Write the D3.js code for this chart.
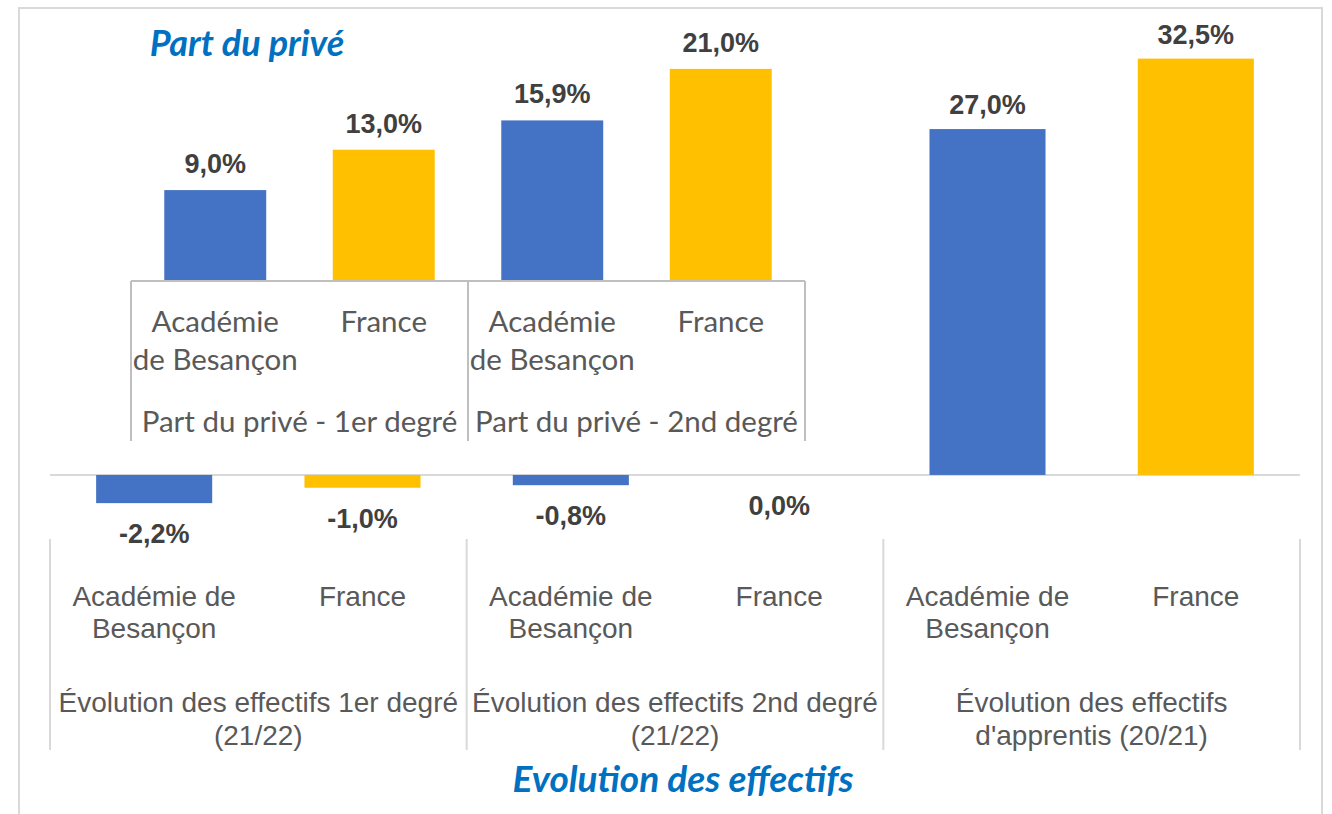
<!DOCTYPE html>
<html>
<head>
<meta charset="utf-8">
<script src="https://cdn.jsdelivr.net/npm/d3@7"></script>
<style>
  body { margin: 0; background: #fff; }
  .lbl { font-family: "Liberation Sans", Arial, sans-serif; fill: #595959; }
  .val { font-family: "Liberation Sans", Arial, sans-serif; font-weight: bold; fill: #404040; }
  .cal { font-family: Lato, "Open Sans", sans-serif; fill: #595959; }
  .ttl { font-family: Lato, "Open Sans", sans-serif; font-weight: bold; font-style: italic; fill: #0070C0; }
</style>
</head>
<body>
<div id="chart"></div>
<script>
      // data -------------------------------------------
      var subCats = ["Académie", "France"];
      var evoGroups = ["Évolution des effectifs 1er degré\n(21/22)", "Évolution des effectifs 2nd degré\n(21/22)", "Évolution des effectifs\nd'apprentis (20/21)"];
      var evoSubLabels = ["Académie de\nBesançon", "France"];
      var evoAcademie = [-2.2, -0.8, 27.0];
      var evoFrance = [-1.0, 0.0, 32.5];

      var partGroups = ["Part du privé - 1er degré", "Part du privé - 2nd degré"];
      var partSubLabels = ["Académie\nde Besançon", "France"];
      var partAcademie = [9.0, 15.9];
      var partFrance = [13.0, 21.0];

      var colors = { "Académie": "#4472C4", "France": "#FFC000" };
      var width = 1332;
      var height = 814;

      var fmt = function(v) { return v.toFixed(1).replace('.', ',') + '%'; };

      var chart = d3.select('#chart').append('svg')
                    .attr('width', width)
                    .attr('height', height);

      // outer frame
      chart.append('rect')
           .attr('x', 19).attr('y', 8)
           .attr('width', 1303).attr('height', 840)
           .attr('fill', '#fff')
           .attr('stroke', '#d9d9d9').attr('stroke-width', 2);

      function rows(groups, a, f) {
        return groups.map(function(g, i) {
          return { group: g, values: [{ key: "Académie", v: a[i] }, { key: "France", v: f[i] }] };
        });
      }

      function multiLine(sel, text, x, y, lh) {
        var t = sel.append('text').attr('x', x).attr('y', y).attr('text-anchor', 'middle');
        text.split('\n').forEach(function(line, i) {
          t.append('tspan').attr('x', x).attr('y', y + i * lh).text(line);
        });
        return t;
      }

      // -----------------------------------
      // main chart : Evolution des effectifs
      var x0 = d3.scaleBand().domain(evoGroups).range([50, 1300]);
      var x1 = d3.scaleBand().domain(subCats).range([0, x0.bandwidth()])
                 .paddingInner(0.443).paddingOuter(0.2215);
      var y = d3.scaleLinear().domain([-5, 35]).range([539, 26.6]);

      var evo = chart.append('g').attr('class', 'evo');
      var evoData = rows(evoGroups, evoAcademie, evoFrance);

      // axis line
      evo.append('line')
         .attr('x1', x0.range()[0]).attr('x2', x0.range()[1])
         .attr('y1', y(0)).attr('y2', y(0))
         .attr('stroke', '#d9d9d9').attr('stroke-width', 2);

      // group separators
      var evoSeps = evoGroups.map(function(g) { return x0(g); }).concat([x0.range()[1]]);
      evo.selectAll('.sep').data(evoSeps).enter().append('line')
         .attr('class', 'sep')
         .attr('x1', function(d){ return d; }).attr('x2', function(d){ return d; })
         .attr('y1', 539).attr('y2', 750)
         .attr('stroke', '#d9d9d9').attr('stroke-width', 2);

      var eg = evo.selectAll('.grp').data(evoData).enter().append('g')
                  .attr('class', 'grp')
                  .attr('transform', function(d){ return 'translate(' + x0(d.group) + ',0)'; });

      eg.selectAll('rect').data(function(d){ return d.values; }).enter().append('rect')
        .attr('x', function(d){ return x1(d.key); })
        .attr('width', x1.bandwidth())
        .attr('y', function(d){ return y(Math.max(0, d.v)); })
        .attr('height', function(d){ return Math.abs(y(d.v) - y(0)); })
        .attr('fill', function(d){ return colors[d.key]; });

      eg.selectAll('.val').data(function(d){ return d.values; }).enter().append('text')
        .attr('class', 'val')
        .attr('text-anchor', 'middle')
        .attr('font-size', 27)
        .attr('x', function(d){ return x1(d.key) + x1.bandwidth() / 2; })
        .attr('y', function(d){ return d.v > 0 ? y(d.v) - 15 : y(Math.min(0, d.v)) + 40; })
        .text(function(d){ return fmt(d.v); });

      eg.each(function(d) {
        var g = d3.select(this);
        subCats.forEach(function(k, i) {
          multiLine(g, evoSubLabels[i], x1(k) + x1.bandwidth() / 2, 606, 32)
            .attr('class', 'lbl').attr('font-size', 28);
        });
        multiLine(g, d.group, x0.bandwidth() / 2, 712, 33)
          .attr('class', 'lbl').attr('font-size', 28);
      });

      // -----------------------------------
      // overlay chart : Part du privé
      var p0 = d3.scaleBand().domain(partGroups).range([131, 805]);
      var p1 = d3.scaleBand().domain(subCats).range([0, p0.bandwidth()])
                 .paddingInner(0.395).paddingOuter(0.1975);
      var py = d3.scaleLinear().domain([0, 25]).range([281, 28.5]);

      var part = chart.append('g').attr('class', 'part');
      var partData = rows(partGroups, partAcademie, partFrance);

      var pg = part.selectAll('.grp').data(partData).enter().append('g')
                   .attr('class', 'grp')
                   .attr('transform', function(d){ return 'translate(' + p0(d.group) + ',0)'; });

      pg.selectAll('rect').data(function(d){ return d.values; }).enter().append('rect')
        .attr('x', function(d){ return p1(d.key); })
        .attr('width', p1.bandwidth())
        .attr('y', function(d){ return py(d.v); })
        .attr('height', function(d){ return py(0) - py(d.v); })
        .attr('fill', function(d){ return colors[d.key]; });

      pg.selectAll('.val').data(function(d){ return d.values; }).enter().append('text')
        .attr('class', 'val')
        .attr('text-anchor', 'middle')
        .attr('font-size', 27)
        .attr('x', function(d){ return p1(d.key) + p1.bandwidth() / 2; })
        .attr('y', function(d){ return py(d.v) - 17; })
        .text(function(d){ return fmt(d.v); });

      pg.each(function(d) {
        var g = d3.select(this);
        subCats.forEach(function(k, i) {
          multiLine(g, partSubLabels[i], p1(k) + p1.bandwidth() / 2, 332, 38)
            .attr('class', 'cal').attr('font-size', 29.5);
        });
        multiLine(g, d.group, p0.bandwidth() / 2, 432, 38)
          .attr('class', 'cal').attr('font-size', 29.5);
      });

      // category box of the overlay axis
      var partSeps = partGroups.map(function(g) { return p0(g); }).concat([p0.range()[1]]);
      part.append('line')
          .attr('x1', p0.range()[0]).attr('x2', p0.range()[1])
          .attr('y1', py(0)).attr('y2', py(0))
          .attr('stroke', '#bfbfbf').attr('stroke-width', 2);
      part.selectAll('.sep').data(partSeps).enter().append('line')
          .attr('class', 'sep')
          .attr('x1', function(d){ return d; }).attr('x2', function(d){ return d; })
          .attr('y1', py(0)).attr('y2', 441)
          .attr('stroke', '#bfbfbf').attr('stroke-width', 2);

      // titles
      chart.append('text').attr('class', 'ttl')
           .attr('x', 247).attr('y', 56).attr('text-anchor', 'middle')
           .attr('font-size', 36)
           .text('Part du privé');
      chart.append('text').attr('class', 'ttl')
           .attr('x', 683).attr('y', 792).attr('text-anchor', 'middle')
           .attr('font-size', 37)
           .text('Evolution des effectifs');
</script>
</body>
</html>
